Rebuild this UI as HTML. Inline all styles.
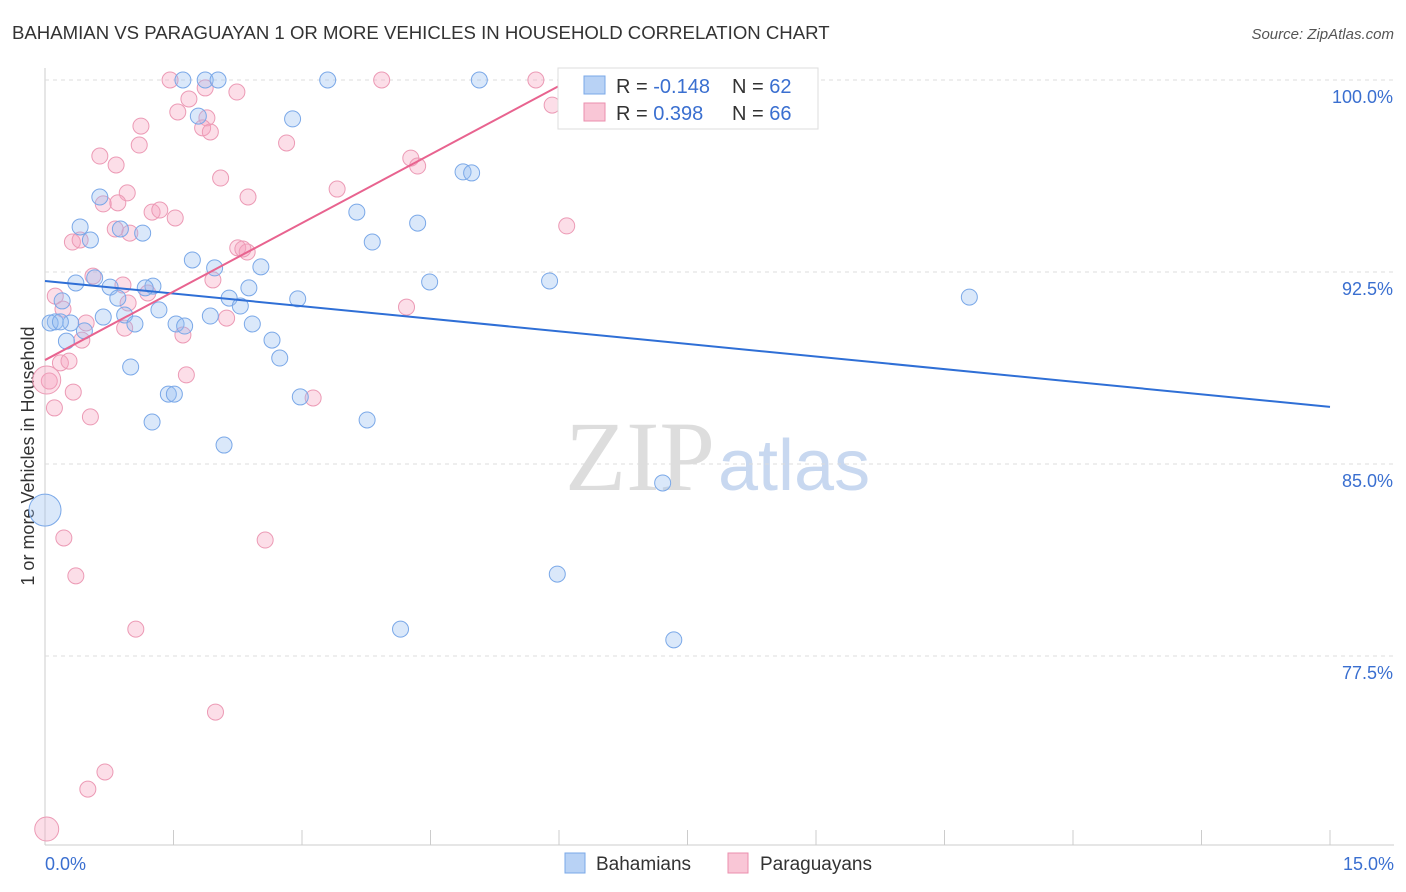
<!DOCTYPE html>
<html><head><meta charset="utf-8"><style>
body{margin:0;background:#fff;font-family:"Liberation Sans",sans-serif;}
svg{display:block}
</style></head><body>
<svg id="c" width="1406" height="892">
<text x="12" y="39" font-size="18.6" fill="#333">BAHAMIAN VS PARAGUAYAN 1 OR MORE VEHICLES IN HOUSEHOLD CORRELATION CHART</text>
<text x="1394" y="39" font-size="15" fill="#555" font-style="italic" text-anchor="end">Source: ZipAtlas.com</text>
<text x="34" y="456" font-size="18" fill="#333" text-anchor="middle" transform="rotate(-90 34 456)">1 or more Vehicles in Household</text>
<text x="715" y="490" font-size="100" fill="#ddd" text-anchor="end" font-family="Liberation Serif">ZIP</text>
<text x="718" y="490" font-size="72" fill="#c8d8f0">atlas</text>
<g id="grid"></g><g id="pts"></g><g id="lines"></g>
<g>
<rect x="558" y="68" width="260" height="61" fill="#fff" stroke="#ddd"/>
<rect x="584" y="76" width="21" height="18" fill="#b8d2f5" stroke="#7aa8e8"/>
<rect x="584" y="103" width="21" height="18" fill="#f9c6d6" stroke="#eb8fae"/>
<text x="616" y="93" font-size="20" fill="#333">R = <tspan fill="#3a6fd0">-0.148</tspan></text>
<text x="732" y="93" font-size="20" fill="#333">N = <tspan fill="#3a6fd0">62</tspan></text>
<text x="616" y="120" font-size="20" fill="#333">R = <tspan fill="#3a6fd0"> 0.398</tspan></text>
<text x="732" y="120" font-size="20" fill="#333">N = <tspan fill="#3a6fd0">66</tspan></text>
</g>
<g>
<rect x="565" y="853" width="20" height="20" fill="#b8d2f5" stroke="#7aa8e8"/>
<text x="596" y="870" font-size="19" fill="#333">Bahamians</text>
<rect x="728" y="853" width="20" height="20" fill="#f9c6d6" stroke="#eb8fae"/>
<text x="760" y="870" font-size="19" fill="#333">Paraguayans</text>
</g>
</svg>
<script>
const yTicks=[100,92.5,85,77.5];
const yTickLabels=["100.0%","92.5%","85.0%","77.5%"];
const xTickLabels=["0.0%","15.0%"];
const blueX=[1.61,1.87,2.02,3.30,5.07,2.89,1.79,0.64,0.41,0.53,0.88,1.14,3.64,4.35,3.82,4.88,4.98,1.72,1.98,2.52,0.36,0.58,0.76,0.85,1.26,1.17,2.15,2.38,2.28,2.95,4.49,5.89,10.79,0.20,0.12,0.06,0.30,0.68,0.93,1.05,1.33,1.53,1.63,1.93,2.42,0.46,0.25,2.65,2.74,1.00,1.44,1.51,2.98,1.25,3.76,2.09,7.21,0.0,5.98,4.15,7.34,0.18];
const blueY=[100,100,100,100,100,98.48,98.59,95.43,94.26,93.75,94.18,94.02,94.84,94.41,93.67,96.41,96.37,92.97,92.66,92.70,92.07,92.27,91.91,91.48,91.95,91.88,91.48,91.88,91.17,91.45,92.11,92.15,91.52,91.37,90.55,90.51,90.51,90.74,90.82,90.47,91.02,90.47,90.39,90.78,90.47,90.20,89.80,89.84,89.14,88.79,87.73,87.73,87.62,86.64,86.72,85.74,84.26,83.20,80.70,78.55,78.13,90.55];
const pinkX=[1.46,3.93,5.73,6.58,5.92,1.87,2.24,1.68,1.55,1.89,1.84,1.93,1.12,1.10,2.82,0.64,0.83,4.27,4.35,2.05,0.96,0.68,0.85,3.41,2.37,1.25,1.34,1.52,0.99,0.82,6.09,0.32,0.41,2.25,2.36,2.31,0.56,0.91,1.20,1.96,0.97,0.12,0.21,4.22,2.12,0.48,0.93,1.61,0.43,0.18,0.28,0.05,0.33,1.65,3.13,0.11,0.53,0.22,2.57,0.36,1.06,1.99,0.70,0.50,0.02,0.02];
const pinkY=[100,100,100,100,99.02,99.69,99.53,99.26,98.75,98.52,98.13,97.97,98.2,97.46,97.54,97.03,96.68,96.95,96.64,96.17,95.59,95.16,95.2,95.74,95.43,94.84,94.92,94.61,94.02,94.18,94.30,93.67,93.75,93.44,93.28,93.40,92.34,91.99,91.68,92.19,91.29,91.56,91.05,91.13,90.70,90.51,90.31,90.04,89.84,88.95,89.02,88.24,87.81,88.48,87.58,87.19,86.84,82.11,82.03,80.63,78.55,75.31,72.97,72.30,70.74,88.28];
const trendBlue=[92.15,87.23];
const trendPink=[89.06,100];
const trendPinkEnd=6.13;
const NS="http://www.w3.org/2000/svg";
const X=v=>45+v/15*1285, Y=v=>80+(100-v)*25.6;
function mk(t,a,p){const e=document.createElementNS(NS,t);for(const k in a)e.setAttribute(k,a[k]);p.appendChild(e);return e;}
const grid=document.getElementById('grid');
mk('line',{x1:45,y1:68,x2:45,y2:845,stroke:'#ccc'},grid);
mk('line',{x1:45,y1:845,x2:1394,y2:845,stroke:'#ccc'},grid);
yTicks.forEach((t,i)=>{
 const g=mk('line',{x1:45,y1:Y(t),x2:1394,y2:Y(t),stroke:'#ddd','stroke-dasharray':'4,4'},grid);
 
 
 const tx=mk('text',{x:1393,y:Y(t)+23,'font-size':18,fill:'#3a6fd0','text-anchor':'end'},grid);
 tx.textContent=yTickLabels[i];
 
 
});
for(let i=1;i<=10;i++){const x=X(i*1.5);const l=mk('line',{x1:x,y1:830,x2:x,y2:845,stroke:'#ccc'},grid);
 
 }
[[0,'start',45],[1,'end',1394]].forEach(([i,a,x])=>{const t=mk('text',{x:x,y:870,'font-size':18,fill:'#3a6fd0','text-anchor':a},grid);t.textContent=xTickLabels[i];
 
 });
const pts=document.getElementById('pts');
pinkX.forEach((v,i)=>{const c=mk('circle',{cx:X(v),cy:Y(pinkY[i]),r:i==64?12:(i==65?14:8),fill:'rgba(245,160,190,0.35)',stroke:'#ec9ab5','stroke-width':1},pts);
 
 });
blueX.forEach((v,i)=>{const c=mk('circle',{cx:X(v),cy:Y(blueY[i]),r:i==57?16:8,fill:'rgba(150,190,240,0.35)',stroke:'#7aa8e8','stroke-width':1},pts);
 
 });
const lines=document.getElementById('lines');
const bl=mk('line',{x1:X(0),y1:Y(trendBlue[0]),x2:X(15),y2:Y(trendBlue[1]),stroke:'#2f6fd6','stroke-width':2},lines);


const pl=mk('line',{x1:X(0),y1:Y(trendPink[0]),x2:X(trendPinkEnd),y2:Y(trendPink[1]),stroke:'#e8638f','stroke-width':2},lines);


</script>
</body></html>
